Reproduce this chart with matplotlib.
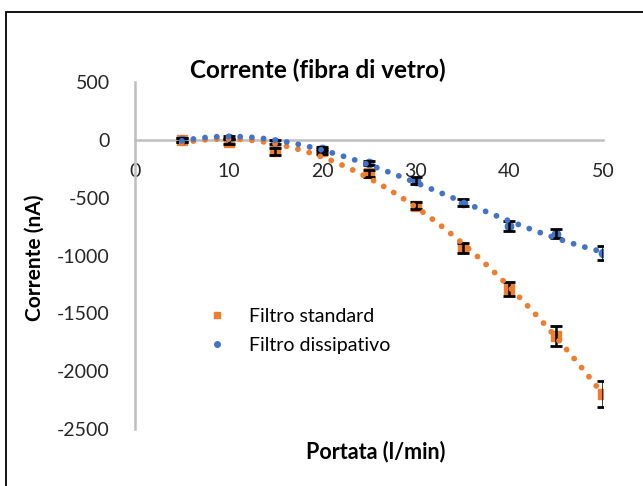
import numpy as np
import matplotlib
matplotlib.use("Agg")
import matplotlib.pyplot as plt
from matplotlib.lines import Line2D
from matplotlib.patches import Rectangle

plt.rcParams['font.family'] = ['Lato', 'DejaVu Sans']
plt.rcParams['axes.unicode_minus'] = False

# Flow rate (l/min)
portata = [5, 10, 15, 20, 25, 30, 35, 40, 45, 50]

# Current (nA) and error for each filter
standard = [0, -15, -100, -100, -290, -570, -934, -1289, -1696, -2197]
standard_err = [20, 20, 30, 20, 30, 30, 45, 60, 90, 110]
dissipativo = [0, 20, -20, -80, -200, -355, -545, -744, -813, -977]
dissipativo_err = [15, 15, 15, 15, 20, 30, 30, 40, 40, 60]

ORANGE = '#ED7D31'
BLUE = '#4472C4'
GREY = '#BFBFBF'

fig = plt.figure(figsize=(6.43, 4.86), dpi=100)
ax = fig.add_axes([135/643, 1-429/486, (603-135)/643, (429-82)/486])

# chart frame
fig.patches.append(Rectangle((5.5/643, -0.1), 1.2, 1-12.5/486+0.1,
                             transform=fig.transFigure, fill=False,
                             edgecolor='black', linewidth=1.3, zorder=0))

x = np.array(portata, dtype=float)

# data points
ax.plot(x, standard, 's', color=ORANGE, markersize=6.5, zorder=3)
ax.plot(x, dissipativo, 'o', color=BLUE, markersize=6, zorder=3)

# error bars
ax.errorbar(x, standard, yerr=standard_err, fmt='none', ecolor='black',
            elinewidth=1.8, capsize=4, capthick=2, zorder=4)
ax.errorbar(x, dissipativo, yerr=dissipativo_err, fmt='none', ecolor='black',
            elinewidth=1.8, capsize=4, capthick=2, zorder=4)

# third-order polynomial trend lines
xt = np.linspace(x.min(), x.max(), 300)
for ys, col in ((standard, ORANGE), (dissipativo, BLUE)):
    coef = np.polyfit(x, ys, 3)
    ax.plot(xt, np.polyval(coef, xt), color=col, linewidth=4.2,
            linestyle=(0, (0.01, 2.0)), dash_capstyle='round', zorder=5)

ax.set_xlim(0, 50)
ax.set_ylim(-2500, 500)
ax.set_xticks([0, 10, 20, 30, 40, 50])
ax.set_yticks([500, 0, -500, -1000, -1500, -2000, -2500])

for s in ('top', 'right'):
    ax.spines[s].set_visible(False)
ax.spines['bottom'].set_position(('data', 0))
ax.spines['bottom'].set_color(GREY)
ax.spines['bottom'].set_linewidth(1.8)
ax.spines['left'].set_color(GREY)
ax.spines['left'].set_linewidth(1.8)

ax.tick_params(axis='x', length=0, pad=17, labelsize=14, labelcolor='#262626')
ax.tick_params(axis='y', length=0, pad=18, labelsize=14, labelcolor='#262626')
ax.patch.set_alpha(0)

fig.text(318/643, 1-70/486, 'Corrente (fibra di vetro)', ha='center', va='center',
         fontsize=17.5, fontweight='bold')
fig.text(35/643, 1-258/486, 'Corrente (nA)', ha='center', va='center',
         rotation=90, fontsize=15, fontweight='bold')
fig.text(376/643, 1-452/486, 'Portata (l/min)', ha='center', va='center',
         fontsize=15.5, fontweight='bold')

handles = [
    Line2D([], [], marker='s', color=ORANGE, linestyle='none', markersize=4.5),
    Line2D([], [], marker='o', color=BLUE, linestyle='none', markersize=4),
]
fig.legend(handles, ['Filtro standard', 'Filtro dissipativo'],
           loc='upper left', bbox_to_anchor=(195/643, 1-300/486),
           frameon=False, fontsize=14, handlelength=1.5, handletextpad=0.9,
           labelspacing=0.62, borderaxespad=0)

fig.savefig('out.png', dpi=100)
